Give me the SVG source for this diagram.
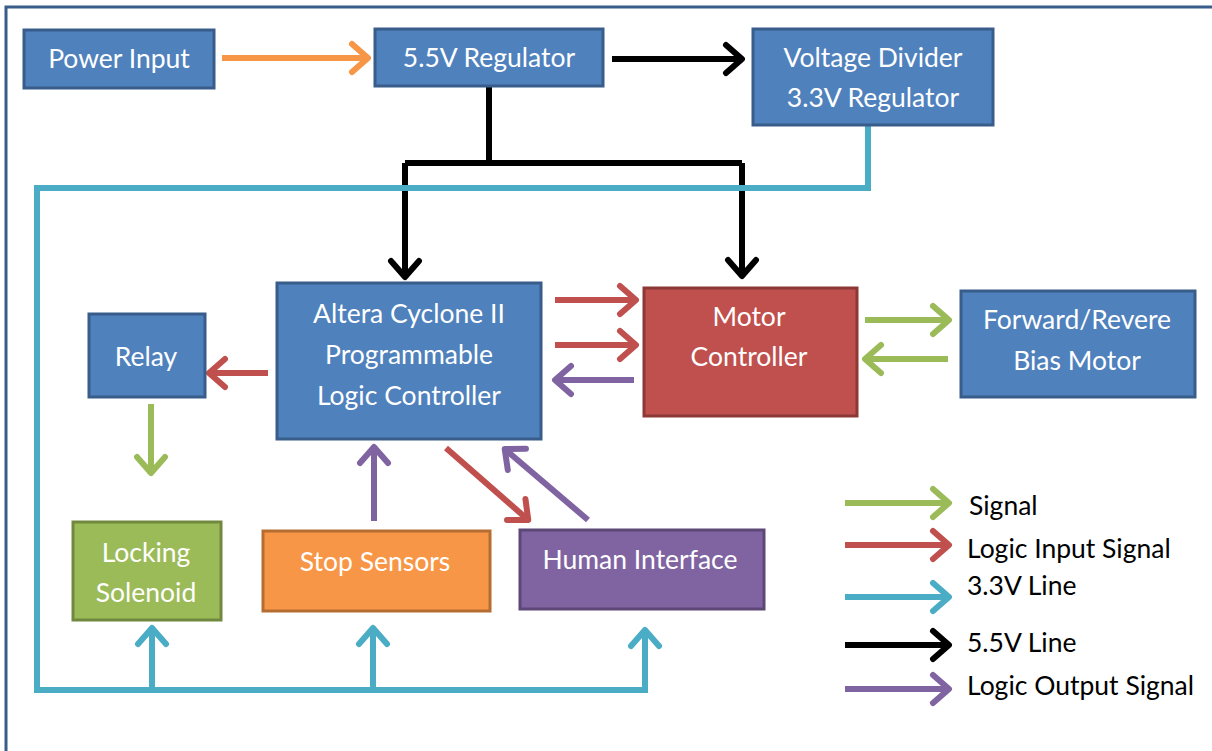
<svg xmlns="http://www.w3.org/2000/svg" width="1212" height="751" viewBox="0 0 1212 751">
<style>
.box{stroke-width:3}
.blue{fill:#4f81bd;stroke:#385d8a}
.red{fill:#c0504d;stroke:#8c3836}
.green{fill:#9bbb59;stroke:#71893f}
.orange{fill:#f79646;stroke:#b66d31}
.purple{fill:#8064a2;stroke:#5c4776}
.t{font-family:Lato,"Liberation Sans",sans-serif;font-size:26.5px;fill:#fff;text-anchor:middle}
.lt{font-family:Lato,"Liberation Sans",sans-serif;font-size:26.5px;fill:#000}
.c{fill:none;stroke-width:6;stroke-linecap:butt}
.cO{stroke:#f79646}.cK{stroke:#000}.cC{stroke:#4bacc6}.cR{stroke:#c0504d}.cP{stroke:#8064a2}.cG{stroke:#9bbb59}
</style>
<defs>
<marker id="mO" markerUnits="userSpaceOnUse" orient="auto" overflow="visible" markerWidth="40" markerHeight="40"><path d="M-13,-14 L3,0 L-13,14" fill="none" stroke="#f79646" stroke-width="6" stroke-linecap="round" stroke-linejoin="round"/></marker>
<marker id="mK" markerUnits="userSpaceOnUse" orient="auto" overflow="visible" markerWidth="40" markerHeight="40"><path d="M-13,-14 L3,0 L-13,14" fill="none" stroke="#000" stroke-width="6" stroke-linecap="round" stroke-linejoin="round"/></marker>
<marker id="mC" markerUnits="userSpaceOnUse" orient="auto" overflow="visible" markerWidth="40" markerHeight="40"><path d="M-13,-14 L3,0 L-13,14" fill="none" stroke="#4bacc6" stroke-width="6" stroke-linecap="round" stroke-linejoin="round"/></marker>
<marker id="mR" markerUnits="userSpaceOnUse" orient="auto" overflow="visible" markerWidth="40" markerHeight="40"><path d="M-13,-14 L3,0 L-13,14" fill="none" stroke="#c0504d" stroke-width="6" stroke-linecap="round" stroke-linejoin="round"/></marker>
<marker id="mP" markerUnits="userSpaceOnUse" orient="auto" overflow="visible" markerWidth="40" markerHeight="40"><path d="M-13,-14 L3,0 L-13,14" fill="none" stroke="#8064a2" stroke-width="6" stroke-linecap="round" stroke-linejoin="round"/></marker>
<marker id="mG" markerUnits="userSpaceOnUse" orient="auto" overflow="visible" markerWidth="40" markerHeight="40"><path d="M-13,-14 L3,0 L-13,14" fill="none" stroke="#9bbb59" stroke-width="6" stroke-linecap="round" stroke-linejoin="round"/></marker>
</defs>
<rect width="1212" height="751" fill="#fff"/>
<rect x="6" y="7" width="1220" height="760" fill="none" stroke="#385d8a" stroke-width="3"/>

<g id="connectors">
<path class="c cO" d="M222,58 H365" marker-end="url(#mO)"/>
<path class="c cK" d="M612,59 H739" marker-end="url(#mK)"/>
<path class="c cK" d="M489,86 V163"/>
<path class="c cK" d="M405,163 H742" stroke-linecap="square"/>
<path class="c cK" d="M405,163 V274" marker-end="url(#mK)"/>
<path class="c cK" d="M742,163 V273" marker-end="url(#mK)"/>
<path class="c cC" d="M868,125 V188 H37 V690 H645 V633" stroke-linejoin="miter" marker-end="url(#mC)"/>
<path class="c cC" d="M152,690 V631" marker-end="url(#mC)"/>
<path class="c cC" d="M373,690 V631" marker-end="url(#mC)"/>
<path class="c cR" d="M555,300 H633" marker-end="url(#mR)"/>
<path class="c cR" d="M555,345 H633" marker-end="url(#mR)"/>
<path class="c cP" d="M634,380 H558" marker-end="url(#mP)"/>
<path class="c cR" d="M268,373 H212" marker-end="url(#mR)"/>
<path class="c cG" d="M151,404 V470" marker-end="url(#mG)"/>
<path class="c cG" d="M865,320 H946" marker-end="url(#mG)"/>
<path class="c cG" d="M948,359 H868" marker-end="url(#mG)"/>
<path class="c cP" d="M374,521 V450" marker-end="url(#mP)"/>
<path class="c cR" d="M446,448 L526,518" marker-end="url(#mR)"/>
<path class="c cP" d="M588,520 L507,451" marker-end="url(#mP)"/>
</g>

<g id="power-input"><rect class="box blue" x="24" y="30" width="190" height="58"/><text class="t" x="119" y="68">Power Input</text></g>
<g id="regulator-55"><rect class="box blue" x="375" y="29" width="228" height="57"/><text class="t" x="489" y="67">5.5V Regulator</text></g>
<g id="voltage-divider"><rect class="box blue" x="753" y="29" width="240" height="96"/><text class="t" x="873" y="67">Voltage Divider</text><text class="t" x="873" y="107">3.3V Regulator</text></g>
<g id="altera"><rect class="box blue" x="277" y="283" width="264" height="156"/><text class="t" x="409" y="323">Altera Cyclone II</text><text class="t" x="409" y="364">Programmable</text><text class="t" x="409" y="405">Logic Controller</text></g>
<g id="motor-controller"><rect class="box red" x="644" y="288" width="213" height="128"/><text class="t" x="749" y="326">Motor</text><text class="t" x="749" y="366">Controller</text></g>
<g id="bias-motor"><rect class="box blue" x="961" y="291" width="234" height="106"/><text class="t" x="1077" y="329">Forward/Revere</text><text class="t" x="1077" y="370">Bias Motor</text></g>
<g id="relay"><rect class="box blue" x="89" y="314" width="116" height="83"/><text class="t" x="146" y="366">Relay</text></g>
<g id="locking-solenoid"><rect class="box green" x="73" y="522" width="148" height="98"/><text class="t" x="146" y="562">Locking</text><text class="t" x="146" y="602">Solenoid</text></g>
<g id="stop-sensors"><rect class="box orange" x="263" y="531" width="227" height="80"/><text class="t" x="375" y="571">Stop Sensors</text></g>
<g id="human-interface"><rect class="box purple" x="520" y="530" width="244" height="79"/><text class="t" x="640" y="569">Human Interface</text></g>

<g id="legend">
<path class="c cG" d="M845,503 H946" marker-end="url(#mG)"/>
<path class="c cR" d="M845,545 H946" marker-end="url(#mR)"/>
<path class="c cC" d="M845,597 H946" marker-end="url(#mC)"/>
<path class="c cK" d="M845,645 H946" marker-end="url(#mK)"/>
<path class="c cP" d="M845,689 H946" marker-end="url(#mP)"/>
<text class="lt" x="969" y="515">Signal</text>
<text class="lt" x="967" y="558">Logic Input Signal</text>
<text class="lt" x="967" y="595">3.3V Line</text>
<text class="lt" x="967" y="652">5.5V Line</text>
<text class="lt" x="967" y="695">Logic Output Signal</text>
</g>
</svg>
